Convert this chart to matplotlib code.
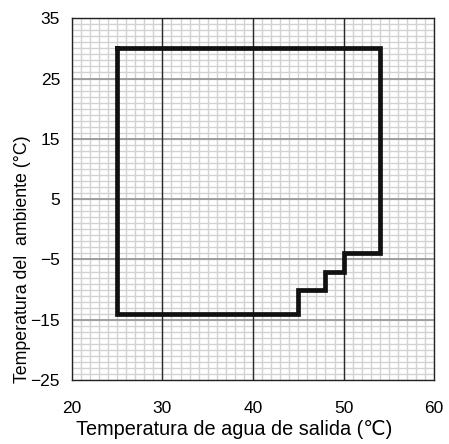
import numpy as np
import matplotlib
matplotlib.use('Agg')
from matplotlib import pyplot as plt

plt.rcParams['font.family'] = ['Liberation Sans', 'DejaVu Sans']

# operating envelope outline
env_x = [25, 54, 54, 50, 50, 48, 48, 45, 45, 25, 25]
env_y = [30, 30, -4, -4, -7, -7, -10, -10, -14, -14, 30]

x_ticks = [20, 30, 40, 50, 60]
y_ticks = [-25, -15, -5, 5, 15, 25, 35]

fig = plt.figure(figsize=(4.49, 4.44), dpi=100)
ax = fig.add_axes([0.160, 0.144, 0.807, 0.815])

ax.set_xlim(20, 60)
ax.set_ylim(-25, 35)

# minor grid every 1 unit
for xv in np.arange(20, 61, 1):
    ax.axvline(xv, color='#d2d2d2', lw=1.0, zorder=1)
for yv in np.arange(-25, 36, 1):
    ax.axhline(yv, color='#d2d2d2', lw=1.0, zorder=1)
# major grid
for yv in y_ticks[1:-1]:
    ax.axhline(yv, color='#9a9a9a', lw=1.3, zorder=2)
for xv in x_ticks[1:-1]:
    ax.axvline(xv, color='#2a2a2a', lw=1.0, zorder=2)

ax.plot(env_x, env_y, color='#111111', lw=3.4, solid_joinstyle='miter', zorder=3)

ax.set_xticks(x_ticks)
ax.set_yticks(y_ticks)
ax.set_xticklabels([str(v) for v in x_ticks], fontsize=12.5)
ax.set_yticklabels([str(v).replace('-', '\u2212') for v in y_ticks], fontsize=12.5)
ax.tick_params(axis='x', length=0, pad=15)
ax.tick_params(axis='y', length=0, pad=8.5)
for s in ax.spines.values():
    s.set_color('#222222')
    s.set_linewidth(1.0)

ax.set_xlabel('Temperatura de agua de salida (\u2103)', fontsize=14.3)
ax.xaxis.set_label_coords(0.447, -0.11)
ax.set_ylabel('Temperatura del  ambiente (°C)', fontsize=12.8)
ax.yaxis.set_label_coords(-0.114, 0.335)

fig.savefig('out.png', dpi=100)
